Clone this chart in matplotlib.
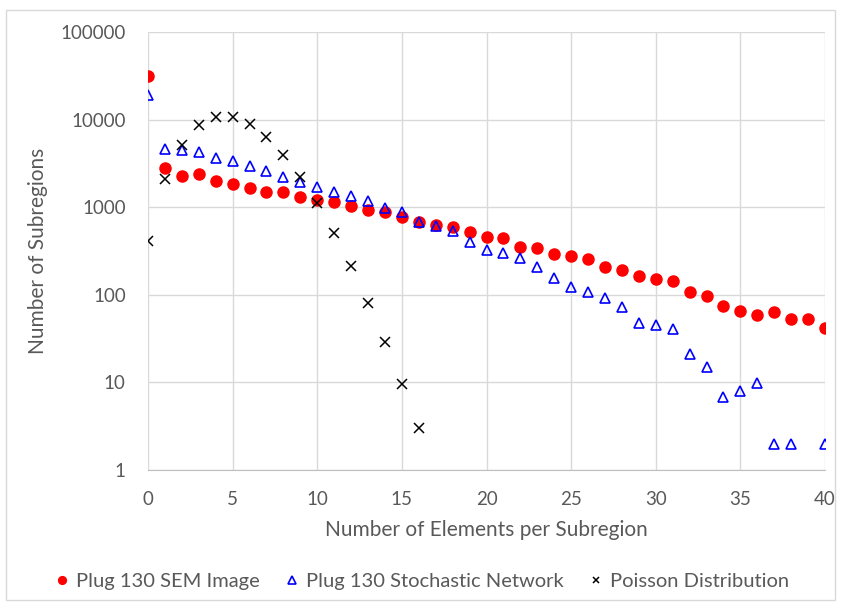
import matplotlib.pyplot as plt
from matplotlib.patches import Rectangle

plt.rcParams['font.family'] = ['Lato', 'DejaVu Sans']

# counts of subregions by number of elements
sem_x = list(range(0, 41))
sem_y = [31500, 2780, 2290, 2370, 2000, 1840, 1640, 1500, 1480, 1300,
         1220, 1140, 1040, 940, 870, 770, 684, 630, 595, 515,
         460, 450, 353, 340, 292, 280, 254, 210, 192, 164,
         150, 142, 108, 98, 75, 65, 59, 63, 52.5, 52.5, 42]

stoch_x = list(range(0, 39)) + [40]
stoch_y = [18900, 4570, 4500, 4270, 3670, 3370, 2950, 2570, 2240, 1950,
           1700, 1480, 1340, 1190, 990, 880, 684, 615, 540, 404,
           328, 297, 263, 207, 154, 124, 108, 93, 73, 48,
           45, 41, 21, 15, 6.9, 7.9, 9.9, 2, 2, 2]

pois_x = list(range(0, 17))
pois_y = [410, 2090, 5160, 8600, 10700, 10700, 8900, 6380, 3980, 2220,
          1120, 510, 213, 81, 29, 9.7, 3.0]

fig = plt.figure(figsize=(8.41, 6.06), dpi=100)
ax = fig.add_axes([148 / 841, 1 - 470 / 606, 677 / 841, 438 / 606])

ax.plot(sem_x, sem_y, 'o', color='#ff0000', markersize=8, label='Plug 130 SEM Image')
ax.plot(stoch_x, stoch_y, '^', color='#0000ff', markerfacecolor='none',
        markeredgewidth=1.2, markersize=7.5, label='Plug 130 Stochastic Network')
ax.plot(pois_x, pois_y, 'x', color='black', markersize=6.5, markeredgewidth=1.1,
        label='Poisson Distribution')

ax.set_yscale('log')
ax.set_xlim(0, 40)
ax.set_ylim(1, 100000)
ax.set_xticks(range(0, 41, 5))
ax.set_yticks([1, 10, 100, 1000, 10000, 100000])
ax.set_yticklabels(['1', '10', '100', '1000', '10000', '100000'])
ax.minorticks_off()
ax.grid(True, color='#d9d9d9', linewidth=1)
ax.set_axisbelow(True)
for s in ['top', 'right', 'left']:
    ax.spines[s].set_visible(False)
ax.spines['bottom'].set_color('#bfbfbf')
ax.tick_params(length=0, labelsize=13.5, colors='#595959')
ax.tick_params(axis='x', pad=15)
ax.tick_params(axis='y', pad=16)

ax.set_xlabel('Number of Elements per Subregion', fontsize=15, color='#595959', labelpad=9)
ax.set_ylabel('Number of Subregions', fontsize=15, color='#595959', labelpad=9)

fig.legend(loc='center', bbox_to_anchor=(0.5, 1 - 581 / 606), ncol=3, frameon=False,
           fontsize=14.5, labelcolor='#595959', handletextpad=0.2, columnspacing=1.1,
           handlelength=1.0, markerscale=0.7)

fig.patches.append(Rectangle((6 / 841, 6 / 606), 829 / 841, 590 / 606, transform=fig.transFigure,
                             fill=False, edgecolor='#d9d9d9', linewidth=1))

fig.savefig('out.png', dpi=100)
